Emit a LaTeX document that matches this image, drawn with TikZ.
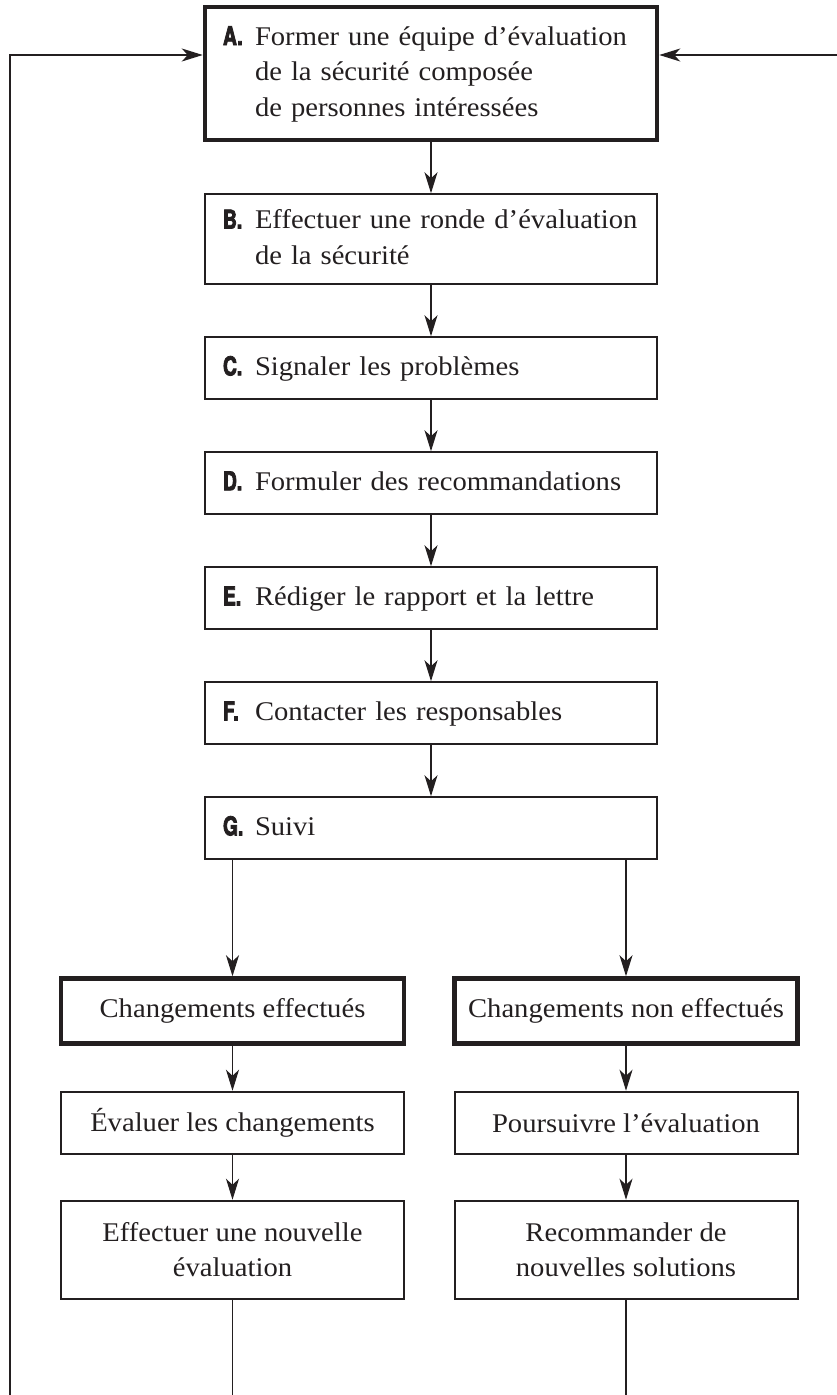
\documentclass[tikz,border=0pt]{standalone}
\usepackage{fontspec}
\setmainfont[FakeStretch=1.06]{Liberation Serif}
\newfontfamily\lettrefont[FakeStretch=0.74,FakeBold=3]{TeX Gyre Heros}
\usepackage{tikz}
\usetikzlibrary{arrows.meta,positioning,calc}
\definecolor{trait}{HTML}{231F20}
\newcommand{\etape}[1]{{\lettrefont\bfseries\fontsize{26}{26}\selectfont #1}}
\newcommand{\tache}[2]{\makebox[32pt][l]{\etape{#1}}\begin{tabular}[t]{@{}l@{}}#2\end{tabular}}

\begin{document}
\begin{tikzpicture}[
  x=1pt,y=-1pt,
  node distance=51pt,
  font=\fontsize{27}{35.5}\selectfont,
  etape/.style={draw=trait,line width=2pt,text width=416pt,inner xsep=18pt,
               minimum height=62pt,align=left,text=trait},
  forte/.style={etape,line width=4.5pt},
  issue/.style={draw=trait,line width=2pt,minimum width=343pt,minimum height=62pt,
               align=center,text=trait},
  issueforte/.style={issue,line width=4.5pt,minimum height=65pt},
  fleche/.style={-{Stealth[length=21pt,width=13pt,inset=6pt]},line width=1.2pt,draw=trait},
  fil/.style={line width=1.2pt,draw=trait}
]
\useasboundingbox (0,0) rectangle (837,1395);
\node[forte,minimum height=133pt] (A) at (431,73.5) {\tache{A.}{Former une équipe d’évaluation\\de la sécurité composée\\de personnes intéressées}};
\node[etape,minimum height=90pt,below=of A] (B) {\tache{B.}{Effectuer une ronde d’évaluation\\de la sécurité}};
\node[etape,below=of B] (C) {\tache{C.}{Signaler les problèmes}};
\node[etape,below=of C] (D) {\tache{D.}{Formuler des recommandations}};
\node[etape,below=of D] (E) {\tache{E.}{Rédiger le rapport et la lettre}};
\node[etape,below=of E] (F) {\tache{F.}{Contacter les responsables}};
\node[etape,below=of F] (G) {\tache{G.}{Suivi}};
\node[issueforte,below=116pt of G.south west,xshift=28.5pt] (fait) {Changements effectués};
\node[issueforte,below=116pt of G.south east,xshift=-32pt] (nonfait) {Changements non effectués};
\node[issue,below=45pt of fait] (evaluer) {Évaluer les changements};
\node[issue,below=45pt of nonfait] (poursuivre) {Poursuivre l’évaluation};
\node[issue,minimum height=98pt,below=45pt of evaluer] (nouvelle) {Effectuer une nouvelle\\évaluation};
\node[issue,minimum height=98pt,below=45pt of poursuivre] (solutions) {Recommander de\\nouvelles solutions};
\coordinate (retourG) at (10,1395);
\coordinate (retourD) at (837,55);
\draw[fleche] (A)--(B);
\draw[fleche] (B)--(C);
\draw[fleche] (C)--(D);
\draw[fleche] (D)--(E);
\draw[fleche] (E)--(F);
\draw[fleche] (F)--(G);
\draw[fleche] (G.south -| fait)--(fait);
\draw[fleche] (G.south -| nonfait)--(nonfait);
\draw[fleche] (fait)--(evaluer);
\draw[fleche] (nonfait)--(poursuivre);
\draw[fleche] (evaluer)--(nouvelle);
\draw[fleche] (poursuivre)--(solutions);
\draw[fil] (nouvelle)--(nouvelle |- retourG);
\draw[fil] (solutions)--(solutions |- retourG);
\draw[fleche] (retourG) |- (retourD -| A.west);
\draw[fleche] (retourD)--(A.east |- retourD);
\end{tikzpicture}
\end{document}
